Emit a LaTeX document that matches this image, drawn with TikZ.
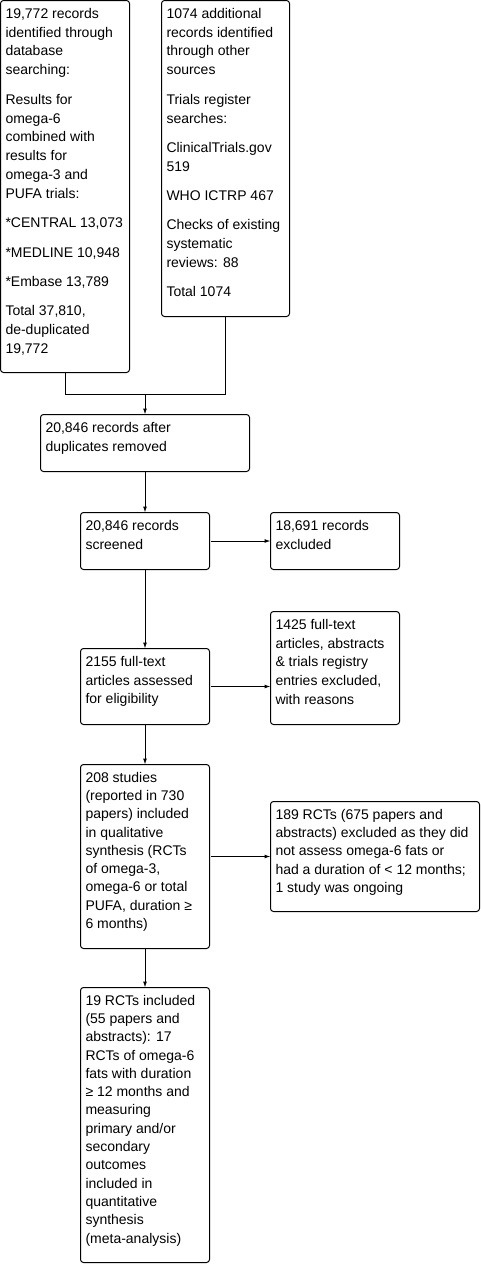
\documentclass[tikz,border=0pt]{standalone}
\usepackage{fontspec}
\setmainfont{Liberation Sans}
\usetikzlibrary{arrows.meta}

\begin{document}
\begin{tikzpicture}[x=1pt, y=-1pt, line width=1pt,
		flowbox/.style={draw, rounded corners=3pt, anchor=north west, inner sep=0pt, outer sep=0pt},
		flowtext/.style={anchor=north west, inner sep=0pt, align=left, font=\fontsize{14}{18.9}\selectfont, execute at begin node=\rule{0pt}{13pt}},
		tighttext/.style={flowtext, font=\fontsize{14}{18.3}\selectfont},
		flowarrow/.style={-{Latex[length=6pt,width=4pt]}}]
		%%%%% START %%%%%
		
		\useasboundingbox (0, 0) rectangle (481, 1282);
		
		% identification
		\node[flowbox, minimum width=129pt, minimum height=372pt] (database) at (0.5, 0.5) {};
		\node[flowtext] (databasetext) at ([shift={(4.5, 7)}]database.north west) {19,772 records\\identified through\\database\\searching:\\[10.4pt]Results for\\omega-6\\combined with\\results for\\omega-3 and\\PUFA trials:\\[10.4pt]*CENTRAL 13,073\\[10.4pt]*MEDLINE 10,948\\[10.4pt]*Embase 13,789\\[10.4pt]Total 37,810,\\de-duplicated\\19,772};
		
		\node[flowbox, minimum width=128pt, minimum height=316pt] (other) at (161.5, 0.5) {};
		\node[flowtext] (othertext) at ([shift={(4.5, 7)}]other.north west) {1074 additional\\records identified\\through other\\sources\\[10.4pt]Trials register\\searches:\\[10.4pt]ClinicalTrials.gov\\519\\[10.4pt]WHO ICTRP 467\\[10.4pt]Checks of existing\\systematic\\reviews: 88\\[10.4pt]Total 1074};
		
		\coordinate (join) at (145, 394.5);
		\draw (database.south) |- (join) -| (other.south);
		
		% screening
		\node[flowbox, minimum width=209pt, minimum height=57pt] (dedup) at (40.5, 414.5) {};
		\node[flowtext] (deduptext) at ([shift={(4.5, 7)}]dedup.north west) {20,846 records after\\duplicates removed};
		\draw[flowarrow] (join) -- (dedup.north);
		
		\node[flowbox, minimum width=129pt, minimum height=57pt] (screened) at (80.5, 512.5) {};
		\node[flowtext] (screenedtext) at ([shift={(4.5, 7)}]screened.north west) {20,846 records\\screened};
		\draw[flowarrow] (dedup.south) -- (screened.north);
		
		\node[flowbox, minimum width=129pt, minimum height=57pt] (excluded) at (270.5, 512.5) {};
		\node[flowtext] (excludedtext) at ([shift={(4.5, 7)}]excluded.north west) {18,691 records\\excluded};
		\draw[flowarrow, shorten <=1.5pt] (screened.east) -- (screened.east -| excluded.west);
		
		% eligibility
		\node[flowbox, minimum width=129pt, minimum height=76pt] (fulltext) at (80.5, 648.5) {};
		\node[flowtext] (fulltexttext) at ([shift={(4.5, 7)}]fulltext.north west) {2155 full-text\\articles assessed\\for eligibility};
		\draw[flowarrow] (screened.south) -- (fulltext.north);
		
		\node[flowbox, minimum width=129pt, minimum height=113pt] (reasons) at (270.5, 611.5) {};
		\node[flowtext] (reasonstext) at ([shift={(4.5, 7)}]reasons.north west) {1425 full-text\\articles, abstracts\\\& trials registry\\entries excluded,\\with reasons};
		\draw[flowarrow, shorten <=1.5pt] (fulltext.east) -- (fulltext.east -| reasons.west);
		
		% included
		\node[flowbox, minimum width=129pt, minimum height=184pt] (qualitative) at (80.5, 764.5) {};
		\node[tighttext] (qualitativetext) at ([shift={(4.5, 7)}]qualitative.north west) {208 studies\\(reported in 730\\papers) included\\in qualitative\\synthesis (RCTs\\of omega-3,\\omega-6 or total\\PUFA, duration ≥\\6 months)};
		\draw[flowarrow] (fulltext.south) -- (qualitative.north);
		
		\node[flowbox, minimum width=209pt, minimum height=110pt] (notassessed) at (270.5, 801.5) {};
		\node[tighttext] (notassessedtext) at ([shift={(4.5, 7)}]notassessed.north west) {189 RCTs (675 papers and\\abstracts) excluded as they did\\not assess omega-6 fats or\\had a duration of < 12 months;\\1 study was ongoing};
		\draw[flowarrow, shorten <=1.5pt] (qualitative.east) -- (qualitative.east -| notassessed.west);
		
		\node[flowbox, minimum width=129pt, minimum height=275pt] (quantitative) at (80.5, 987.5) {};
		\node[tighttext] (quantitativetext) at ([shift={(4.5, 7)}]quantitative.north west) {19 RCTs included\\(55 papers and\\abstracts): 17\\RCTs of omega-6\\fats with duration\\≥ 12 months and\\measuring\\primary and/or\\secondary\\outcomes\\included in\\quantitative\\synthesis\\(meta-analysis)};
		\draw[flowarrow] (qualitative.south) -- (quantitative.north);
		
		%%%%% END %%%%%
	\end{tikzpicture}
\end{document}
